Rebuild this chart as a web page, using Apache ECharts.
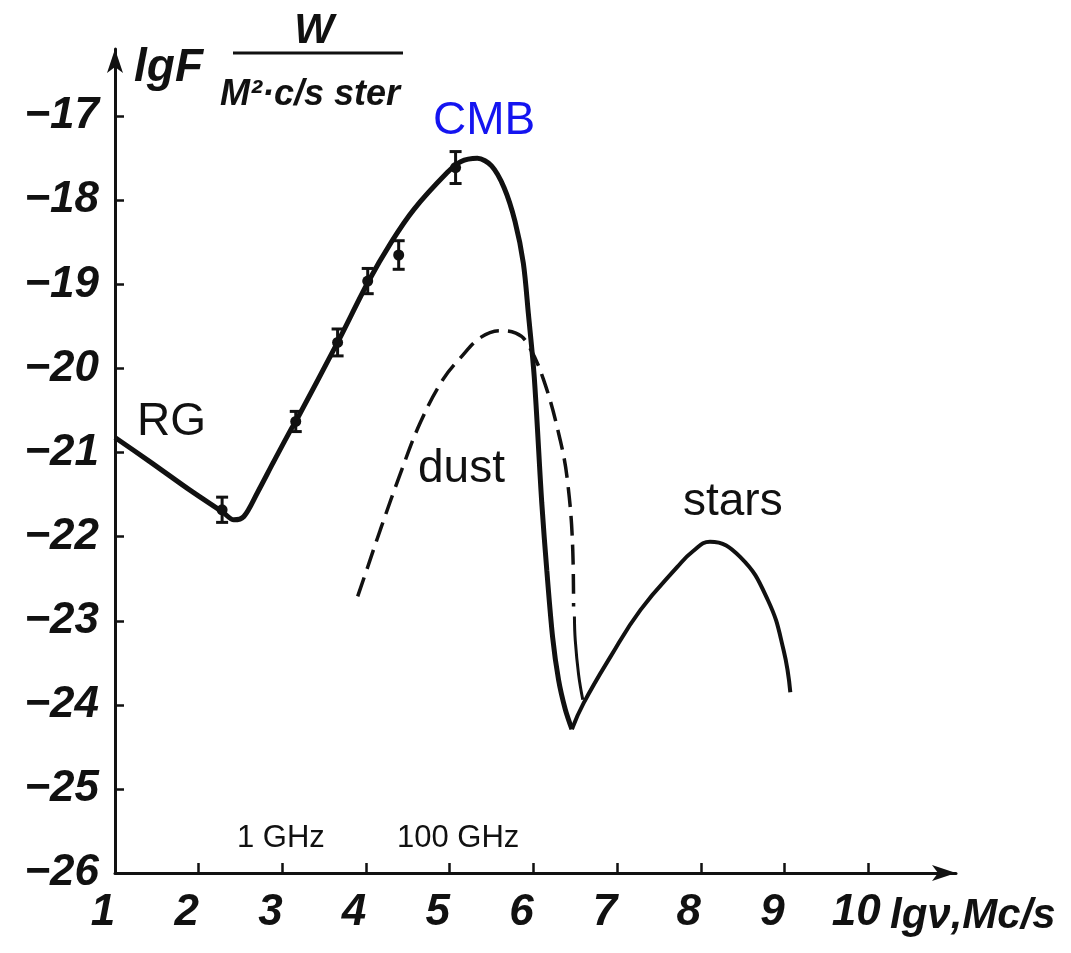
<!DOCTYPE html>
<html>
<head>
<meta charset="utf-8">
<script src="https://cdn.jsdelivr.net/npm/echarts@6/dist/echarts.min.js"></script>
<style>
html,body{margin:0;padding:0;background:#fff;}
#chart{width:1071px;height:953px;}
</style>
</head>
<body>
<div id="chart"></div>
<script>
// ---- data ----
const xTicks = [1, 2, 3, 4, 5, 6, 7, 8, 9, 10];
const yTicks = [-26, -25, -24, -23, -22, -21, -20, -19, -18, -17];

// main (RG + CMB) curve
const mainX = [1.00, 1.42, 1.90, 2.29, 2.42, 2.54, 2.70, 2.89, 3.10, 3.16, 3.66, 4.02, 4.30, 4.57, 4.97, 5.13, 5.33, 5.50, 5.65, 5.78, 5.88, 5.94, 6.01, 6.10, 6.16, 6.23, 6.30, 6.38, 6.46];
const mainY = [-20.82, -21.11, -21.45, -21.71, -21.80, -21.76, -21.48, -21.12, -20.73, -20.63, -19.69, -18.98, -18.50, -18.11, -17.67, -17.54, -17.50, -17.59, -17.85, -18.25, -18.75, -19.35, -20.10, -21.60, -22.40, -23.20, -23.70, -24.05, -24.29];

// stars curve
const starsX = [6.46, 6.60, 6.92, 7.28, 7.72, 7.91, 8.11, 8.47, 8.80, 8.99, 9.07];
const starsY = [-24.29, -23.98, -23.43, -22.87, -22.36, -22.17, -22.06, -22.24, -22.75, -23.35, -23.85];

// dust curve (dashed) and its solid tail
const dustX = [3.90, 4.02, 4.17, 4.41, 4.65, 4.92, 5.13, 5.37, 5.60, 5.79, 5.92, 6.12, 6.32, 6.41, 6.47, 6.48];
const dustY = [-22.71, -22.36, -21.92, -21.25, -20.64, -20.13, -19.87, -19.63, -19.55, -19.58, -19.69, -20.13, -20.85, -21.36, -22.15, -22.83];
const dustTailX = [6.49, 6.50, 6.54, 6.59];
const dustTailY = [-22.95, -23.23, -23.64, -23.94];

// measured points with error bars
const ptsX = [2.28, 3.16, 3.66, 4.02, 4.39, 5.07];
const ptsY = [-21.68, -20.63, -19.69, -18.96, -18.65, -17.61];
const ptsErr = [0.15, 0.12, 0.16, 0.15, 0.17, 0.19];

// ---- build ----
const zip = (xs, ys) => xs.map((x, i) => [x, ys[i]]);
const ink = '#111';
const tickFont = '"Liberation Sans", Arial, sans-serif';
const labelFont = '"Liberation Sans", Helvetica, Arial, sans-serif';
const minus = v => (v < 0 ? '\u2212' + Math.abs(v) : String(v));

const chart = echarts.init(document.getElementById('chart'), null, {renderer: 'canvas'});

const option = {
  backgroundColor: '#fff',
  animation: false,
  grid: {left: 115, right: 115, top: 49, bottom: 80, containLabel: false},
  xAxis: {
    type: 'value', min: 1, max: 11.05, interval: 1,
    axisLine: {show: true, onZero: false, symbol: ['none', 'arrow'], symbolSize: [12, 24],
      lineStyle: {color: ink, width: 3}},
    axisTick: {show: true, inside: true, length: 10, lineStyle: {color: ink, width: 2.5},
      customValues: xTicks.slice(1)},
    axisLabel: {
      customValues: xTicks,
      margin: 18, padding: [0, 24, 0, 0],
      fontFamily: tickFont, fontStyle: 'italic', fontWeight: 'bold', fontSize: 44, color: ink,
      formatter: v => String(v)
    },
    splitLine: {show: false}
  },
  yAxis: {
    type: 'value', min: -26, max: -16.2, interval: 1,
    axisLine: {show: true, onZero: false, symbol: ['none', 'arrow'], symbolSize: [12, 24],
      lineStyle: {color: ink, width: 3}},
    axisTick: {show: true, inside: true, length: 9, lineStyle: {color: ink, width: 2.5},
      customValues: yTicks.slice(1)},
    axisLabel: {
      customValues: yTicks,
      margin: 16,
      fontFamily: tickFont, fontStyle: 'italic', fontWeight: 'bold', fontSize: 44, color: ink,
      formatter: v => minus(v)
    },
    splitLine: {show: false}
  },
  series: [
    {
      name: 'CMB', type: 'line', data: zip(mainX, mainY), smooth: 0.3,
      showSymbol: false, lineStyle: {color: ink, width: 5}, z: 3
    },
    {
      name: 'stars', type: 'line', data: zip(starsX, starsY), smooth: 0.45,
      showSymbol: false, lineStyle: {color: ink, width: 4}, z: 3
    },
    {
      name: 'dust', type: 'line', data: zip(dustX, dustY), smooth: 0.4,
      showSymbol: false, lineStyle: {color: ink, width: 3.5, type: [20, 9]}, z: 2
    },
    {
      name: 'dust tail', type: 'line', data: zip(dustTailX, dustTailY), smooth: 0.4,
      showSymbol: false, lineStyle: {color: ink, width: 3}, z: 2
    },
    {
      name: 'points', type: 'scatter', data: zip(ptsX, ptsY), symbol: 'circle', symbolSize: 11,
      itemStyle: {color: ink, opacity: 1}, z: 4
    },
    {
      name: 'errors', type: 'custom', z: 4,
      data: ptsX.map((x, i) => [x, ptsY[i] - ptsErr[i], ptsY[i] + ptsErr[i]]),
      renderItem: function (params, api) {
        const lo = api.coord([api.value(0), api.value(1)]);
        const hi = api.coord([api.value(0), api.value(2)]);
        const w = 6;
        const st = {stroke: ink, lineWidth: 3};
        return {
          type: 'group',
          children: [
            {type: 'line', shape: {x1: lo[0], y1: lo[1], x2: hi[0], y2: hi[1]}, style: st},
            {type: 'line', shape: {x1: lo[0] - w, y1: lo[1], x2: lo[0] + w, y2: lo[1]}, style: st},
            {type: 'line', shape: {x1: hi[0] - w, y1: hi[1], x2: hi[0] + w, y2: hi[1]}, style: st}
          ]
        };
      }
    }
  ],
  graphic: [
    {type: 'text', x: 134, y: 68, style: {text: 'lgF', font: 'italic bold 46px ' + tickFont, fill: ink, textVerticalAlign: 'middle'}},
    {type: 'text', x: 314, y: 31, style: {text: 'W', font: 'italic bold 42px ' + tickFont, fill: ink, textAlign: 'center', textVerticalAlign: 'middle'}},
    {type: 'line', shape: {x1: 233, y1: 53, x2: 403, y2: 53}, style: {stroke: ink, lineWidth: 3}},
    {type: 'text', x: 310, y: 95, style: {text: 'M\u00b2\u00b7c/s ster', font: 'italic bold 36px ' + tickFont, fill: ink, textAlign: 'center', textVerticalAlign: 'middle'}},
    {type: 'text', x: 890, y: 916, style: {text: 'lg\u03bd,Mc/s', font: 'italic bold 42px ' + tickFont, fill: ink, textAlign: 'left', textVerticalAlign: 'middle'}},
    {type: 'text', x: 433, y: 121, style: {text: 'CMB', font: '46px ' + labelFont, fill: '#1414f0', textVerticalAlign: 'middle'}},
    {type: 'text', x: 137, y: 422, style: {text: 'RG', font: '46px ' + labelFont, fill: ink, textVerticalAlign: 'middle'}},
    {type: 'text', x: 418, y: 469, style: {text: 'dust', font: '46px ' + labelFont, fill: ink, textVerticalAlign: 'middle'}},
    {type: 'text', x: 683, y: 502, style: {text: 'stars', font: '46px ' + labelFont, fill: ink, textVerticalAlign: 'middle'}},
    {type: 'text', x: 237, y: 838, style: {text: '1 GHz', font: '31px ' + labelFont, fill: ink, textVerticalAlign: 'middle'}},
    {type: 'text', x: 397, y: 838, style: {text: '100 GHz', font: '31px ' + labelFont, fill: ink, textVerticalAlign: 'middle'}}
  ]
};
chart.setOption(option);
</script>
</body>
</html>
